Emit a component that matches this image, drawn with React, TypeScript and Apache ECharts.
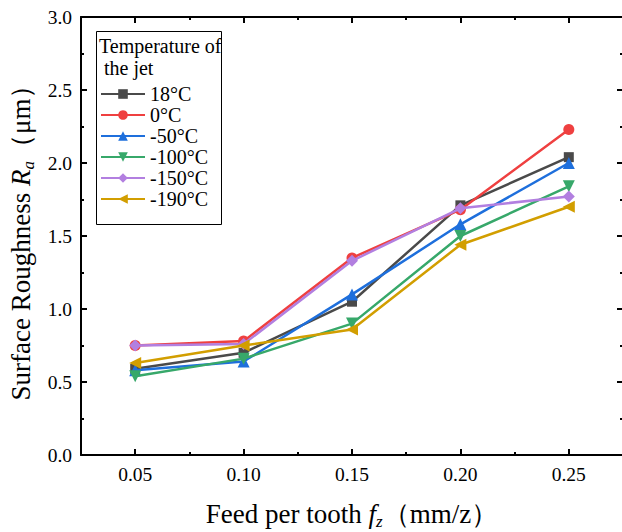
import React, { useEffect, useRef } from "react";
import * as echarts from "echarts";

const feeds = [0.05, 0.1, 0.15, 0.2, 0.25];
const seriesNames = ["18°C", "0°C", "-50°C", "-100°C", "-150°C", "-190°C"];
const ra18 = [0.59, 0.70, 1.05, 1.71, 2.04];
const ra0 = [0.75, 0.78, 1.35, 1.68, 2.23];
const raM50 = [0.58, 0.64, 1.10, 1.58, 2.00];
const raM100 = [0.54, 0.66, 0.90, 1.50, 1.84];
const raM150 = [0.75, 0.76, 1.33, 1.69, 1.77];
const raM190 = [0.63, 0.75, 0.86, 1.44, 1.70];
const xMajorTicks = [0.05, 0.1, 0.15, 0.2, 0.25];
const xMinorTicks = [0.075, 0.125, 0.175, 0.225];

const colors = ["#4a4a4a", "#ef4040", "#1e6fdc", "#37a86a", "#b27fe0", "#d29e00"];
const symbols = ["rect", "circle", "triangle", "triangle", "diamond", "triangle"];
const rotations = [0, 0, 0, 180, 0, 90];
const sizes = [10, 11, 12, 12, 12, 12];

const FONT = "Liberation Serif";

export default function App() {
  const ref = useRef<HTMLDivElement>(null);
  useEffect(() => {
    const chart = echarts.init(ref.current!, null, { renderer: "svg" });
    const allData = [ra18, ra0, raM50, raM100, raM150, raM190];
    const lineStyle = { color: "#000", width: 2 };
    const baseX = {
      type: "value",
      min: 0.025,
      max: 0.275,
      interval: 0.025,
      splitLine: { show: false },
    };
    const nameRich = {
      i: { fontFamily: FONT, fontStyle: "italic", fontSize: 27, color: "#000", lineHeight: 32 },
      sub: { fontFamily: FONT, fontStyle: "italic", fontSize: 17, color: "#000", lineHeight: 18, verticalAlign: "bottom" },
    };
    const option: any = {
      animation: false,
      textStyle: { fontFamily: FONT },
      grid: {
        left: 81,
        top: 17,
        width: 542,
        height: 438,
        containLabel: false,
        outerBoundsMode: "none",
      },
      legend: {
        orient: "vertical",
        left: 95,
        top: 79,
        itemWidth: 44,
        itemHeight: 12,
        itemGap: 1,
        textStyle: { fontFamily: FONT, fontSize: 20, color: "#000", lineHeight: 20 },
        data: seriesNames,
      },
      xAxis: [
        {
          ...baseX,
          position: "bottom",
          axisLine: { show: true, lineStyle },
          axisTick: { show: true, inside: true, length: 6, lineStyle, customValues: xMajorTicks },
          axisLabel: {
            show: true,
            customValues: xMajorTicks,
            formatter: (v: number) => v.toFixed(2),
            fontFamily: FONT,
            fontSize: 19.5,
            color: "#000",
            margin: 9,
          },
          name: "Feed per tooth {i|f}{sub|z}（mm/z）",
          nameLocation: "middle",
          nameGap: 43,
          nameTextStyle: {
            fontFamily: FONT,
            fontSize: 27,
            color: "#000",
            lineHeight: 32,
            rich: nameRich,
          },
        },
        {
          ...baseX,
          position: "bottom",
          axisLine: { show: false },
          axisTick: { show: true, inside: true, length: 3, lineStyle, customValues: xMinorTicks },
          axisLabel: { show: false },
        },
        {
          ...baseX,
          position: "top",
          axisLine: { show: true, lineStyle },
          axisTick: { show: true, inside: true, length: 6, lineStyle, customValues: xMajorTicks },
          axisLabel: { show: false },
        },
        {
          ...baseX,
          position: "top",
          axisLine: { show: false },
          axisTick: { show: true, inside: true, length: 3, lineStyle, customValues: xMinorTicks },
          axisLabel: { show: false },
        },
      ],
      yAxis: [
        {
          type: "value",
          min: 0,
          max: 3,
          interval: 0.5,
          position: "left",
          splitLine: { show: false },
          axisLine: { show: true, lineStyle },
          axisTick: { show: true, inside: true, length: 6, lineStyle },
          minorTick: { show: true, splitNumber: 2, length: 3, lineStyle },
          axisLabel: {
            formatter: (v: number) => v.toFixed(1),
            fontFamily: FONT,
            fontSize: 19.5,
            color: "#000",
            margin: 9,
          },
          name: "Surface Roughness {i|R}{sub|a}（μm）",
          nameLocation: "middle",
          nameGap: 42,
          nameTextStyle: {
            fontFamily: FONT,
            fontSize: 27,
            color: "#000",
            lineHeight: 32,
            rich: nameRich,
          },
        },
        {
          type: "value",
          min: 0,
          max: 3,
          interval: 0.5,
          position: "right",
          splitLine: { show: false },
          axisLine: { show: true, lineStyle },
          axisTick: { show: true, inside: true, length: 6, lineStyle },
          minorTick: { show: true, splitNumber: 2, length: 3, lineStyle },
          axisLabel: { show: false },
        },
      ],
      graphic: [
        {
          type: "rect",
          shape: { x: 96.5, y: 31.5, width: 125, height: 193 },
          style: { fill: "#fff", stroke: "#000", lineWidth: 1 },
          z: 0,
        },
        {
          type: "text",
          x: 99,
          y: 36,
          style: { text: "Temperature of", font: `20px "${FONT}"`, fill: "#000" },
          z: 10,
        },
        {
          type: "text",
          x: 99,
          y: 58,
          style: { text: " the jet", font: `20px "${FONT}"`, fill: "#000" },
          z: 10,
        },
      ],
      series: seriesNames.map((name, i) => ({
        name,
        type: "line",
        xAxisIndex: 0,
        yAxisIndex: 0,
        data: feeds.map((f, j) => [f, allData[i][j]]),
        symbol: symbols[i],
        symbolSize: sizes[i],
        symbolRotate: rotations[i],
        showAllSymbol: true,
        color: colors[i],
        lineStyle: { color: colors[i], width: 2.5 },
        itemStyle: { color: colors[i] },
        z: 3 + i,
      })),
    };
    chart.setOption(option);
    return () => chart.dispose();
  }, []);
  return (
    <div
      ref={ref}
      style={{ position: "absolute", left: 0, top: 0, width: 622, height: 532 }}
    />
  );
}
